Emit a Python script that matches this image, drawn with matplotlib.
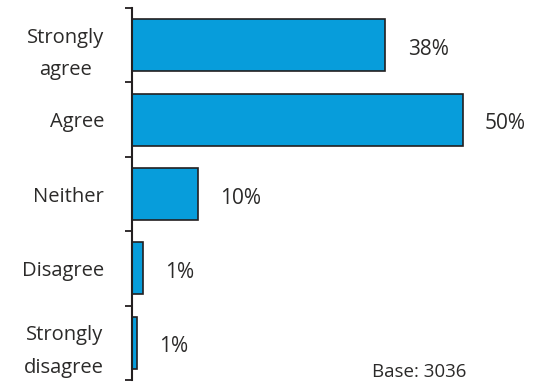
import matplotlib
matplotlib.use("Agg")
import matplotlib.pyplot as plt
import numpy as np

categories = ["Strongly\nagree", "Agree", "Neither", "Disagree", "Strongly\ndisagree"]
values = [38.3, 50, 10, 1.6, 0.8]
value_labels = ["38%", "50%", "10%", "1%", "1%"]
base_text = "Base: 3036"

plt.rcParams['font.family'] = ['Open Sans', 'DejaVu Sans']
text_color = "#2B2A29"

fig = plt.figure(figsize=(5.39, 3.83), dpi=100)
ax = fig.add_axes([132/539, 3/383, 1 - 132/539, 372/383])

y = np.arange(len(categories))
ax.barh(y, values, height=0.7, color="#079DDB", edgecolor="#231F20", linewidth=1.2)
ax.set_ylim(len(categories) - 0.5, -0.5)
ax.set_xlim(0, 61.5)

for yi, v, lab in zip(y, values, value_labels):
    ax.annotate(lab, (v, yi), xytext=(16, -3), textcoords="offset points",
                ha="left", va="center", fontsize=15, color=text_color)

ax.set_yticks(y)
ax.set_yticklabels(categories, fontsize=14.5, color=text_color, linespacing=1.85,
                   multialignment="center")
ax.tick_params(axis="y", which="major", length=0, pad=20)
ax.set_yticks(np.arange(-0.5, len(categories)), minor=True)
ax.tick_params(axis="y", which="minor", length=5, width=1.3, color="#231F20", direction="out")
ax.set_xticks([])
for s in ["top", "right", "bottom"]:
    ax.spines[s].set_visible(False)
ax.spines["left"].set_linewidth(1.5)
ax.spines["left"].set_color("#231F20")

fig.text(372/539, 1 - 372/383, base_text, ha="left", va="center", fontsize=13.5, color=text_color)

fig.savefig("out.png", dpi=100)
